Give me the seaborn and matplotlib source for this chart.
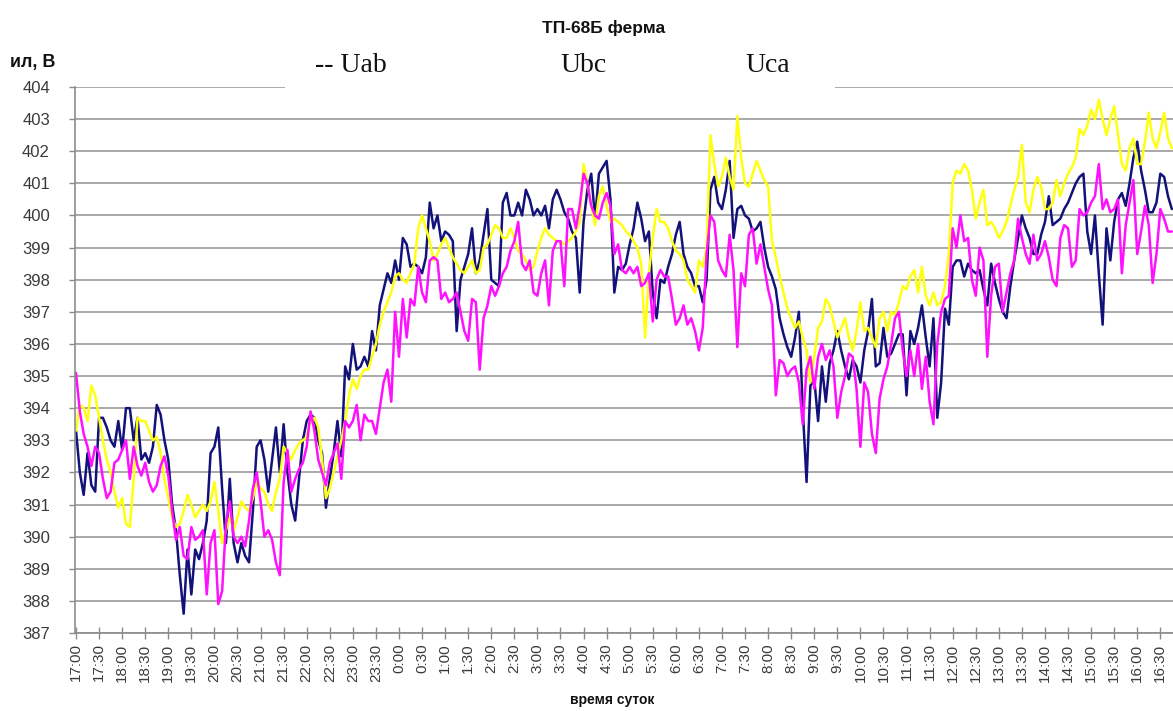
import matplotlib
matplotlib.use("Agg")
import matplotlib.pyplot as plt
from matplotlib.patches import Rectangle
import numpy as np
import pandas as pd
import seaborn as sns

# Phase-to-phase voltages, V, sampled every 5 minutes starting at 17:00
step_min = 5

u_ab = [
    393.3, 392.0, 391.3, 392.6, 391.6, 391.4, 393.7, 393.7, 393.4, 393.0,
    392.8, 393.6, 392.7, 394.0, 394.0, 393.0, 393.7, 392.4, 392.6, 392.3,
    392.8, 394.1, 393.8, 393.0, 392.4, 391.0, 390.2, 388.8, 387.6, 389.6,
    388.2, 389.6, 389.3, 389.8, 390.5, 392.6, 392.8, 393.4, 391.5, 389.8,
    391.8, 389.8, 389.2, 389.8, 389.4, 389.2, 390.8, 392.8, 393.0, 392.4,
    391.4, 392.4, 393.4, 392.0, 393.5, 392.0, 391.0, 390.5, 391.8, 393.0,
    393.6, 393.8, 393.7, 393.0, 392.6, 390.9, 391.8, 392.6, 393.6, 392.5,
    395.3, 394.9, 396.0, 395.2, 395.3, 395.6, 395.3, 396.4, 395.8, 397.2,
    397.7, 398.2, 397.9, 398.6, 398.0, 399.3, 399.1, 398.4, 398.5, 398.4,
    398.2, 398.7, 400.4, 399.6, 400.0, 399.2, 399.5, 399.4, 399.2, 396.4,
    398.0, 398.4, 398.8, 399.6, 398.2, 398.6, 399.4, 400.2, 398.0, 397.9,
    397.8, 400.4, 400.7, 400.0, 400.0, 400.4, 400.0, 400.8, 400.5, 400.0,
    400.2, 400.0, 400.3, 399.6, 400.5, 400.8, 400.5, 400.1, 399.9, 399.5,
    399.3, 397.6, 399.8, 400.8, 401.3, 399.9, 401.3, 401.5, 401.7, 400.5,
    397.6, 398.4, 398.3, 398.5, 399.1, 399.6, 400.4, 399.9, 399.2, 399.5,
    397.6, 396.8, 398.0, 397.9, 398.4, 398.8, 399.4, 399.8, 398.8, 398.4,
    398.2, 397.8, 397.8, 397.3, 398.0, 400.8, 401.2, 400.4, 400.2, 400.8,
    401.7, 399.3, 400.2, 400.3, 400.0, 399.9, 399.5, 399.6, 399.8, 399.0,
    398.4, 398.1, 397.7, 396.8, 396.3, 395.9, 395.6, 396.2, 397.0, 394.0,
    391.7, 394.7, 394.9, 393.6, 395.3, 394.2, 395.4, 395.8, 396.4, 395.8,
    395.3, 394.9, 395.5, 395.3, 394.8, 395.8, 396.4, 397.4, 395.3, 395.4,
    396.5, 395.6, 395.7, 396.0, 396.3, 396.3, 394.4, 396.4, 396.0, 396.5,
    397.2, 396.2, 395.3, 396.8, 393.7, 394.8, 397.1, 396.6, 398.4, 398.6,
    398.6, 398.1, 398.5, 398.3, 398.2, 398.3, 397.7, 397.2, 398.5, 397.9,
    397.4, 397.0, 396.8, 397.8, 398.6, 399.3, 400.0, 399.6, 399.3, 398.8,
    398.8, 399.4, 399.8, 400.6, 399.7, 399.8, 399.9, 400.2, 400.4, 400.7,
    401.0, 401.2, 401.3, 399.5, 398.8, 400.0, 398.2, 396.6, 399.6, 398.6,
    399.8, 400.5, 400.7, 400.3, 401.0, 401.8, 402.3, 401.4, 400.8, 400.1,
    400.1, 400.4, 401.3, 401.2, 400.6, 400.2,
]

u_bc = [
    393.3, 394.1, 394.0, 393.6, 394.7, 394.4, 393.7, 393.0, 392.4, 392.0,
    391.4, 390.9, 391.2, 390.4, 390.3, 391.8, 393.7, 393.6, 393.6, 393.3,
    393.0, 393.1, 392.6, 391.8, 391.2, 390.6, 390.3, 390.4, 390.8, 391.3,
    391.0, 390.6, 390.8, 391.0, 390.8, 391.1, 391.7, 390.8, 389.8, 390.2,
    390.6, 390.2, 390.6, 391.1, 390.9, 390.8, 391.2, 391.7, 391.5, 391.4,
    391.0, 390.8, 391.4, 391.8, 392.8, 392.6, 392.4, 392.7, 392.9, 393.0,
    393.1, 393.6, 393.7, 393.4, 392.4, 391.2, 391.5, 392.0, 392.5, 393.0,
    393.6, 394.4, 394.9, 394.6, 395.0, 395.2, 395.2, 395.6, 396.0, 396.6,
    397.0, 397.3, 397.6, 398.1, 398.2, 398.0, 397.9, 398.2, 398.5, 399.6,
    400.0, 399.6, 399.2, 398.6, 398.8, 399.1, 399.3, 399.0, 398.7, 398.5,
    398.3, 398.2, 398.4, 398.6, 398.2, 398.3, 399.0, 399.1, 399.4, 399.7,
    399.6, 399.3, 399.3, 399.6, 399.3, 398.9, 398.8, 398.6, 398.3, 398.4,
    398.9, 399.3, 399.6, 399.4, 399.3, 399.2, 399.2, 399.1, 399.2, 399.3,
    399.5, 399.8, 401.6, 401.0, 400.3, 399.7, 400.6, 400.9, 400.3, 399.8,
    399.9, 399.8, 399.7, 399.5, 399.4, 399.2, 399.0, 398.5, 396.2, 398.2,
    399.3, 400.2, 399.8, 399.8, 399.6, 399.2, 398.9, 398.8, 398.6, 398.0,
    397.8, 397.6, 398.6, 398.4, 399.0, 402.5, 401.6, 400.9, 401.2, 401.8,
    401.2, 400.8, 403.1, 401.8, 401.0, 400.9, 401.3, 401.7, 401.4, 401.1,
    400.9, 399.2, 398.7, 398.1, 397.6, 397.1, 396.8, 396.5, 396.7, 396.2,
    395.8, 394.8, 395.6, 396.5, 396.7, 397.4, 397.2, 396.7, 396.2, 396.5,
    396.8, 396.2, 395.8, 396.4, 397.3, 396.4, 396.5, 396.2, 395.9, 396.8,
    397.0, 396.4, 397.0, 396.9, 397.3, 397.8, 397.7, 398.1, 398.3, 397.6,
    398.4, 397.5, 397.2, 397.6, 397.2, 397.3, 397.8, 398.8, 401.0, 401.4,
    401.3, 401.6, 401.4, 400.8, 399.9, 400.4, 400.8, 399.7, 399.8, 399.6,
    399.3, 399.5, 399.8, 400.3, 400.8, 401.2, 402.2, 400.4, 400.1, 400.8,
    401.2, 400.9, 400.2, 400.2, 400.4, 401.1, 400.6, 401.0, 401.3, 401.5,
    401.8, 402.7, 402.5, 402.8, 403.3, 403.0, 403.6, 403.0, 402.5, 403.0,
    403.4, 402.5, 401.6, 401.4, 402.1, 402.4, 401.6, 401.6, 402.3, 403.2,
    402.4, 402.1, 402.6, 403.2, 402.4, 402.1,
]

u_ca = [
    395.1, 393.9, 393.2, 392.8, 392.2, 392.8, 392.6, 391.8, 391.2, 391.4,
    392.3, 392.4, 392.7, 393.0, 391.8, 392.8, 392.2, 391.9, 392.3, 391.7,
    391.4, 391.6, 392.2, 392.5, 391.9, 390.8, 389.9, 390.3, 389.4, 389.3,
    390.3, 389.9, 390.0, 390.2, 388.2, 389.8, 390.2, 387.9, 388.3, 390.4,
    391.1, 390.0, 389.8, 390.0, 389.7, 390.5, 391.5, 392.0, 391.1, 390.0,
    390.2, 389.9, 389.2, 388.8, 391.7, 392.7, 391.4, 391.8, 392.1, 392.3,
    392.8, 393.9, 393.3, 392.4, 392.0, 391.6, 392.3, 392.6, 392.9, 391.8,
    393.6, 393.4, 393.6, 394.1, 393.0, 393.8, 393.6, 393.6, 393.2, 394.0,
    394.8, 395.2, 394.2, 397.0, 395.6, 397.4, 396.2, 397.4, 397.2, 398.4,
    397.6, 397.3, 398.6, 398.7, 398.6, 397.4, 397.6, 397.3, 397.4, 397.6,
    397.0, 396.4, 396.1, 397.4, 397.3, 395.2, 396.8, 397.2, 397.8, 397.5,
    397.8, 398.2, 398.4, 398.9, 399.2, 399.8, 398.5, 398.3, 398.6, 397.6,
    397.5, 398.2, 398.6, 397.2, 398.9, 399.2, 399.2, 397.8, 400.2, 400.2,
    399.6, 400.3, 401.3, 401.0, 400.3, 400.0, 399.9, 400.4, 400.7, 400.3,
    398.8, 399.1, 398.3, 398.2, 398.4, 398.2, 398.4, 397.8, 397.9, 398.2,
    396.7, 398.0, 398.3, 398.1, 398.1, 397.4, 396.6, 396.8, 397.2, 396.6,
    396.8, 396.4, 395.8, 396.5, 398.8, 400.0, 399.8, 398.6, 398.3, 398.1,
    399.4, 398.3, 395.9, 398.2, 397.8, 399.4, 399.6, 398.5, 399.1, 398.4,
    397.7, 397.2, 394.4, 395.5, 395.4, 395.0, 395.2, 395.3, 394.8, 393.5,
    395.2, 395.6, 394.6, 395.6, 396.0, 395.5, 395.8, 395.3, 393.7, 394.5,
    395.0, 395.7, 395.6, 394.6, 392.8, 394.8, 394.5, 393.2, 392.6, 394.3,
    394.9, 395.3, 396.0, 396.8, 397.0, 395.8, 395.0, 395.8, 395.0, 396.0,
    394.6, 395.6, 394.2, 393.5, 396.0, 397.0, 397.4, 397.5, 399.6, 399.0,
    400.0, 399.2, 399.3, 398.0, 397.5, 399.0, 398.6, 395.6, 397.5, 398.4,
    398.5, 397.0, 397.6, 398.2, 398.6, 399.9, 399.3, 398.8, 398.5, 399.4,
    398.6, 398.8, 399.2, 398.7, 398.0, 397.8, 399.3, 399.7, 399.6, 398.4,
    398.6, 400.2, 400.0, 400.1, 400.4, 400.6, 401.6, 400.2, 400.5, 400.1,
    400.2, 400.5, 398.2, 399.7, 400.4, 401.1, 398.8, 399.5, 400.3, 399.7,
    397.9, 398.8, 400.2, 399.9, 399.5, 399.5,
]

series_names = ["Uab", "Ubc", "Uca"]
series_colors = ["#12127a", "#ffff10", "#ff10ff"]

tick_labels = [
    "17:00", "17:30", "18:00", "18:30", "19:00", "19:30", "20:00", "20:30",
    "21:00", "21:30", "22:00", "22:30", "23:00", "23:30", "0:00", "0:30",
    "1:00", "1:30", "2:00", "2:30", "3:00", "3:30", "4:00", "4:30",
    "5:00", "5:30", "6:00", "6:30", "7:00", "7:30", "8:00", "8:30",
    "9:00", "9:30", "10:00", "10:30", "11:00", "11:30", "12:00", "12:30",
    "13:00", "13:30", "14:00", "14:30", "15:00", "15:30", "16:00", "16:30",
]
tick_step_min = 30

y_ticks = list(range(387, 405))

# Long-format table for seaborn
frames = []
for name, values in zip(series_names, [u_ab, u_bc, u_ca]):
    frames.append(pd.DataFrame({
        "minute": np.arange(len(values)) * step_min,
        "voltage": values,
        "series": name,
    }))
df = pd.concat(frames, ignore_index=True)

sns.set_style("white")
plt.rcParams["font.family"] = ["Liberation Sans", "DejaVu Sans"]

W, H = 1173, 711
fig = plt.figure(figsize=(W / 100, H / 100), dpi=100)
ax = fig.add_axes([75 / W, 1 - 633 / H, 1 - 75 / W, (633 - 87) / H])

sns.lineplot(
    data=df, x="minute", y="voltage", hue="series",
    hue_order=series_names, palette=dict(zip(series_names, series_colors)),
    linewidth=1.8, legend=False, estimator=None, sort=False, ax=ax,
)

ax.set_xlim(-1.3, 1426.5)
ax.set_ylim(387, 404)
ax.set_yticks(y_ticks)
ax.set_yticklabels([str(v) for v in y_ticks])
ax.set_xticks(np.arange(len(tick_labels)) * tick_step_min)
ax.set_xticklabels(tick_labels, rotation=90)
ax.set_xlabel("")
ax.set_ylabel("")

ax.yaxis.grid(True, color="#a3a3a3", linewidth=1.3)
ax.xaxis.grid(False)
ax.set_axisbelow(True)

for side in ("top", "right"):
    ax.spines[side].set_visible(False)
for side in ("left", "bottom"):
    ax.spines[side].set_color("#8c8c8c")
    ax.spines[side].set_linewidth(1.2)

ax.tick_params(axis="x", direction="inout", length=9, width=1, color="#8c8c8c",
               labelsize=11, labelcolor="#3a3a3a", pad=3)
ax.tick_params(axis="y", direction="out", length=4, width=1, color="#8c8c8c",
               labelsize=12, labelcolor="#3a3a3a", pad=14)
ax.tick_params(bottom=True, left=True)

# Titles and axis captions
fig.text(604 / W, 1 - 28 / H, "ТП-68Б ферма", ha="center", va="center",
         fontsize=12.5, fontweight="bold", color="#111111")
fig.text(10 / W, 1 - 62 / H, "ил, В", ha="left", va="center",
         fontsize=13, fontweight="bold", color="#111111")
fig.text(612 / W, 1 - 700 / H, "время суток", ha="center", va="center",
         fontsize=10, fontweight="bold", color="#111111")

# Legend band over the top gridline
fig.add_artist(Rectangle((285 / W, 1 - 92 / H), (835 - 285) / W, 52 / H,
                         transform=fig.transFigure, facecolor="white",
                         edgecolor="none", zorder=5))
legend_x = [315, 560, 745]
legend_labels = ["-- Uab", "Ubc", "Uca"]
for lx, lab in zip(legend_x, legend_labels):
    fig.text(lx / W, 1 - 72 / H, lab, ha="left", va="baseline",
             fontsize=20, family=["Liberation Serif", "DejaVu Serif"],
             color="#111111", zorder=6)

fig.savefig("out.png", dpi=100)
